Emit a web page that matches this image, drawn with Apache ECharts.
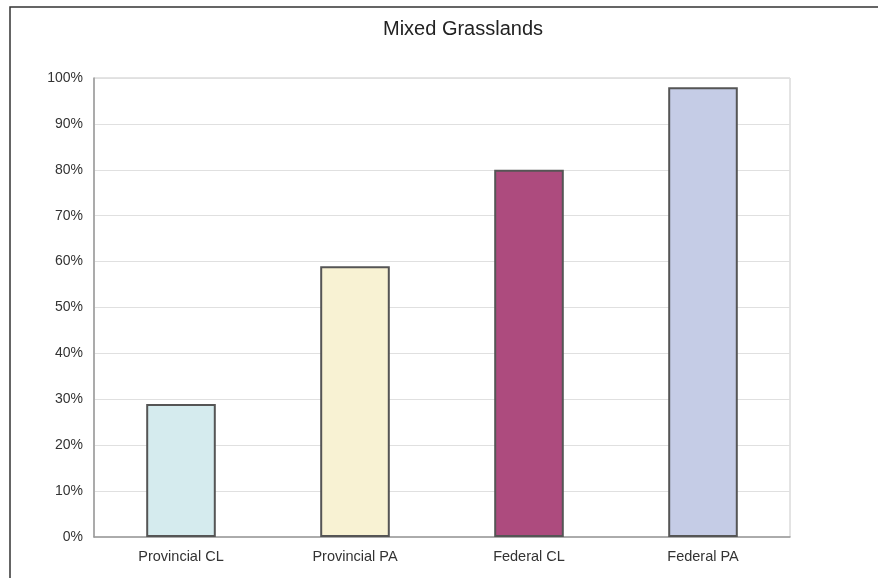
<!DOCTYPE html>
<html><head><meta charset="utf-8">
<script src="https://cdn.jsdelivr.net/npm/echarts@6/dist/echarts.min.js"></script>
<style>html,body{margin:0;padding:0;background:#fff}#c{width:878px;height:578px}</style>
</head><body><div id="c"></div>
<script>
var categories = ['Provincial CL', 'Provincial PA', 'Federal CL', 'Federal PA'];
var values = [0.29, 0.59, 0.80, 0.98];
var barColors = ['#d5ebee', '#f8f2d3', '#ad4b7e', '#c5cce6'];
var titleText = 'Mixed Grasslands';

var chart = echarts.init(document.getElementById('c'));
chart.setOption({
  backgroundColor: '#fff',
  animation: false,
  title: {
    text: titleText, left: 378, top: 14,
    textStyle: { fontFamily: 'Liberation Sans, Arial', fontSize: 20, fontWeight: 'normal', color: '#222' }
  },
  graphic: [{
    type: 'rect', shape: { x: 10, y: 7, width: 900, height: 620 },
    style: { fill: 'none', stroke: '#333', lineWidth: 1.5 }, silent: true
  }],
  grid: { left: 94, right: 88, top: 78, bottom: 41, show: true, borderColor: '#c8c8c8', borderWidth: 1 },
  xAxis: {
    type: 'category', data: categories,
    axisLine: { lineStyle: { color: '#999', width: 1.5 } },
    axisTick: { show: false },
    axisLabel: { fontFamily: 'Liberation Sans, Arial', fontSize: 14.5, color: '#333', margin: 12 }
  },
  yAxis: {
    type: 'value', min: 0, max: 1, interval: 0.1,
    axisLine: { show: true, lineStyle: { color: '#999', width: 1.5 } },
    axisTick: { show: false },
    splitLine: { lineStyle: { color: '#e0e0e0', width: 1 } },
    axisLabel: {
      fontFamily: 'Liberation Sans, Arial', fontSize: 14, color: '#333', margin: 11,
      formatter: function (v) { return Math.round(v * 100) + '%'; }
    }
  },
  series: [{
    type: 'bar', barWidth: '40%',
    data: values.map(function (v, i) {
      return { value: v, itemStyle: { color: barColors[i], borderColor: '#555', borderWidth: 2 } };
    })
  }]
});
</script></body></html>
